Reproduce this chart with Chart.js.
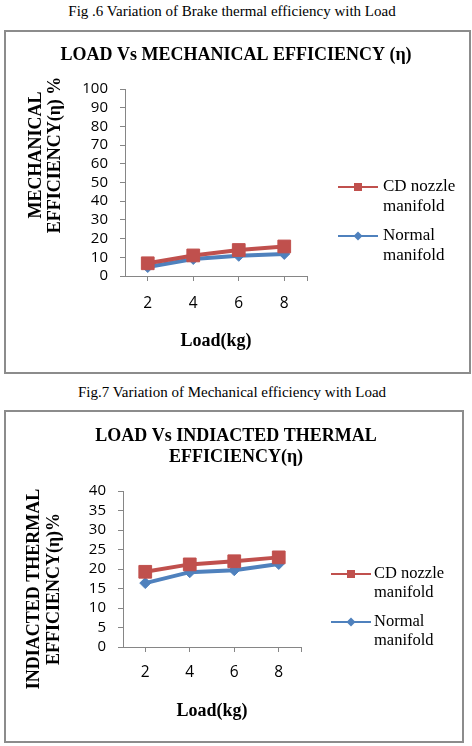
<!DOCTYPE html>
<html>
<head>
<meta charset="utf-8">
<script src="https://cdn.jsdelivr.net/npm/chart.js@4.4.1/dist/chart.umd.min.js"></script>
<style>
  body { margin: 0; background: #fff; width: 472px; height: 746px; position: relative; overflow: hidden; }
  .cap { position: absolute; left: 0; width: 464px; text-align: center; font: 15px "Liberation Serif", "Times New Roman", serif; color: #000; }
  .box { position: absolute; border: 2px solid #8c8c8c; box-sizing: border-box; }
  canvas { position: absolute; left: 0; }
</style>
</head>
<body>
<div class="cap" style="top:3px">Fig .6 Variation of Brake thermal efficiency with Load</div>
<div class="box" style="left:4px;top:30px;width:467px;height:344px"></div>
<canvas id="graficoMec" width="472" height="376" style="top:0"></canvas>

<div class="cap" style="top:384px">Fig.7 Variation of Mechanical efficiency with Load</div>
<div class="box" style="left:4px;top:410px;width:460px;height:333px"></div>
<canvas id="graficoIth" width="472" height="370" style="top:376px"></canvas>

<script>
// dados
const cargas = ['2', '4', '6', '8']
const nomesSeries = ['CD nozzle manifold', 'Normal manifold']
const mecCd = [6.8, 11.0, 13.9, 15.8]
const mecNormal = [4.8, 9.1, 10.8, 11.8]
const ithCd = [19.3, 21.2, 22.0, 23.0]
const ithNormal = [16.4, 19.2, 19.7, 21.3]
const mecEixoY = { max: 100, passo: 10 }
const ithEixoY = { max: 40, passo: 5 }

const vermelho = '#C0504D'
const azul = '#4F81BD'
const cinza = '#868686'
const serif = '"Liberation Serif", "Times New Roman", serif'
const sans = '"Open Sans", "Liberation Sans", sans-serif'

// titulo do eixo y e legenda desenhados a mao (texto em duas linhas)
const extras = {
  id: 'extras',
  afterDraw(chart, args, opts) {
    const ctx = chart.ctx
    ctx.save()
    // titulo do eixo y
    ctx.font = 'bold 18px ' + serif
    ctx.fillStyle = '#000'
    ctx.textAlign = 'center'
    ctx.textBaseline = 'middle'
    opts.tituloY.forEach((linha, i) => {
      ctx.save()
      ctx.translate(opts.yx + i * opts.yPasso, opts.yy)
      ctx.rotate(-Math.PI / 2)
      ctx.fillText(linha, 0, 0)
      ctx.restore()
    })
    // traco no fim do eixo x
    const area = chart.chartArea
    ctx.strokeStyle = cinza
    ctx.lineWidth = 1
    ctx.beginPath()
    ctx.moveTo(area.right + 0.5, area.bottom)
    ctx.lineTo(area.right + 0.5, area.bottom + 5)
    ctx.stroke()
    // legenda
    ctx.font = opts.legFonte + 'px ' + serif
    ctx.textAlign = 'left'
    chart.data.datasets.forEach((ds, i) => {
      const y = opts.legY[i]
      const x0 = opts.legX
      const x1 = x0 + 40
      const xm = (x0 + x1) / 2
      ctx.strokeStyle = ds.borderColor
      ctx.fillStyle = ds.borderColor
      ctx.lineWidth = 2
      ctx.beginPath()
      ctx.moveTo(x0, y)
      ctx.lineTo(x1, y)
      ctx.stroke()
      if (ds.pointStyle == 'rect') {
        ctx.fillRect(xm - 4, y - 4, 8, 8)
      } else {
        ctx.beginPath()
        ctx.moveTo(xm, y - 4.5)
        ctx.lineTo(xm + 4.5, y)
        ctx.lineTo(xm, y + 4.5)
        ctx.lineTo(xm - 4.5, y)
        ctx.closePath()
        ctx.fill()
      }
      ctx.fillStyle = '#000'
      const partes = ds.label.split(' ')
      const linhas = [partes.slice(0, -1).join(' '), partes[partes.length - 1]]
      linhas.forEach((l, j) => ctx.fillText(l, x1 + opts.legGap, y + j * opts.legLinha))
    })
    ctx.restore()
  }
}

function criarGrafico(canvas, titulo, cd, normal, eixoY, layout) {
  return new Chart(canvas, {
    type: 'line',
    data: {
      labels: cargas,
      datasets: [{
        label: nomesSeries[0],
        data: cd,
        borderColor: vermelho,
        backgroundColor: vermelho,
        borderWidth: 4,
        pointStyle: 'rect',
        pointRadius: 9,
        pointBorderWidth: 1
      }, {
        label: nomesSeries[1],
        data: normal,
        borderColor: azul,
        backgroundColor: azul,
        borderWidth: 4,
        pointStyle: 'rectRot',
        pointRadius: 5.5,
        pointBorderWidth: 1
      }]
    },
    options: {
      responsive: false,
      animation: false,
      layout: { padding: 0 },
      plugins: {
        legend: { display: false },
        tooltip: { enabled: false },
        title: {
          display: true,
          text: titulo,
          color: '#000',
          font: { family: serif, size: 18, weight: 'bold', lineHeight: 1.17 },
          padding: layout.tituloPad
        },
        extras: layout.extras
      },
      scales: {
        x: {
          offset: true,
          grid: { offset: false, drawOnChartArea: false, tickLength: 5, color: cinza },
          border: { color: cinza },
          ticks: { color: '#000', font: { family: sans, size: 15.5 }, padding: layout.xPad },
          title: {
            display: true,
            text: 'Load(kg)',
            color: '#000',
            font: { family: serif, size: 18, weight: 'bold' },
            padding: { bottom: 24 }
          },
          afterFit: (s) => { s.height = layout.xAltura }
        },
        y: {
          min: 0,
          max: eixoY.max,
          grid: { drawOnChartArea: false, tickLength: 5, color: cinza },
          border: { color: cinza },
          ticks: { stepSize: eixoY.passo, autoSkip: false, color: '#000', font: { family: sans, size: 15 }, padding: 12 },
          afterFit: (s) => { s.width = layout.yLargura }
        },
        espaco: {
          type: 'linear',
          position: 'right',
          display: true,
          grid: { display: false },
          border: { display: false },
          ticks: { display: false },
          afterFit: (s) => { s.width = layout.direita }
        }
      }
    },
    plugins: [extras]
  })
}

criarGrafico(document.getElementById('graficoMec'),
  'LOAD Vs MECHANICAL EFFICIENCY (η)',
  mecCd, mecNormal, mecEixoY,
  {
    tituloPad: { top: 45, bottom: 23 },
    xPad: 13, xAltura: 100, yLargura: 125, direita: 165,
    extras: { tituloY: ['MECHANICAL', 'EFFICIENCY(η) %'], yx: 36, yPasso: 19.5, yy: 155,
      legX: 338, legY: [187, 236], legGap: 5, legFonte: 17, legLinha: 19.5 }
  })

criarGrafico(document.getElementById('graficoIth'),
  ['LOAD Vs INDIACTED THERMAL', 'EFFICIENCY(η)'],
  ithCd, ithNormal, ithEixoY,
  {
    tituloPad: { top: 50, bottom: 23 },
    xPad: 11, xAltura: 99, yLargura: 123, direita: 171,
    extras: { tituloY: ['INDIACTED THERMAL', 'EFFICIENCY(η)%'], yx: 34, yPasso: 20, yy: 213,
      legX: 331, legY: [198, 246], legGap: 3, legFonte: 16.5, legLinha: 19 }
  })
</script>
</body>
</html>
